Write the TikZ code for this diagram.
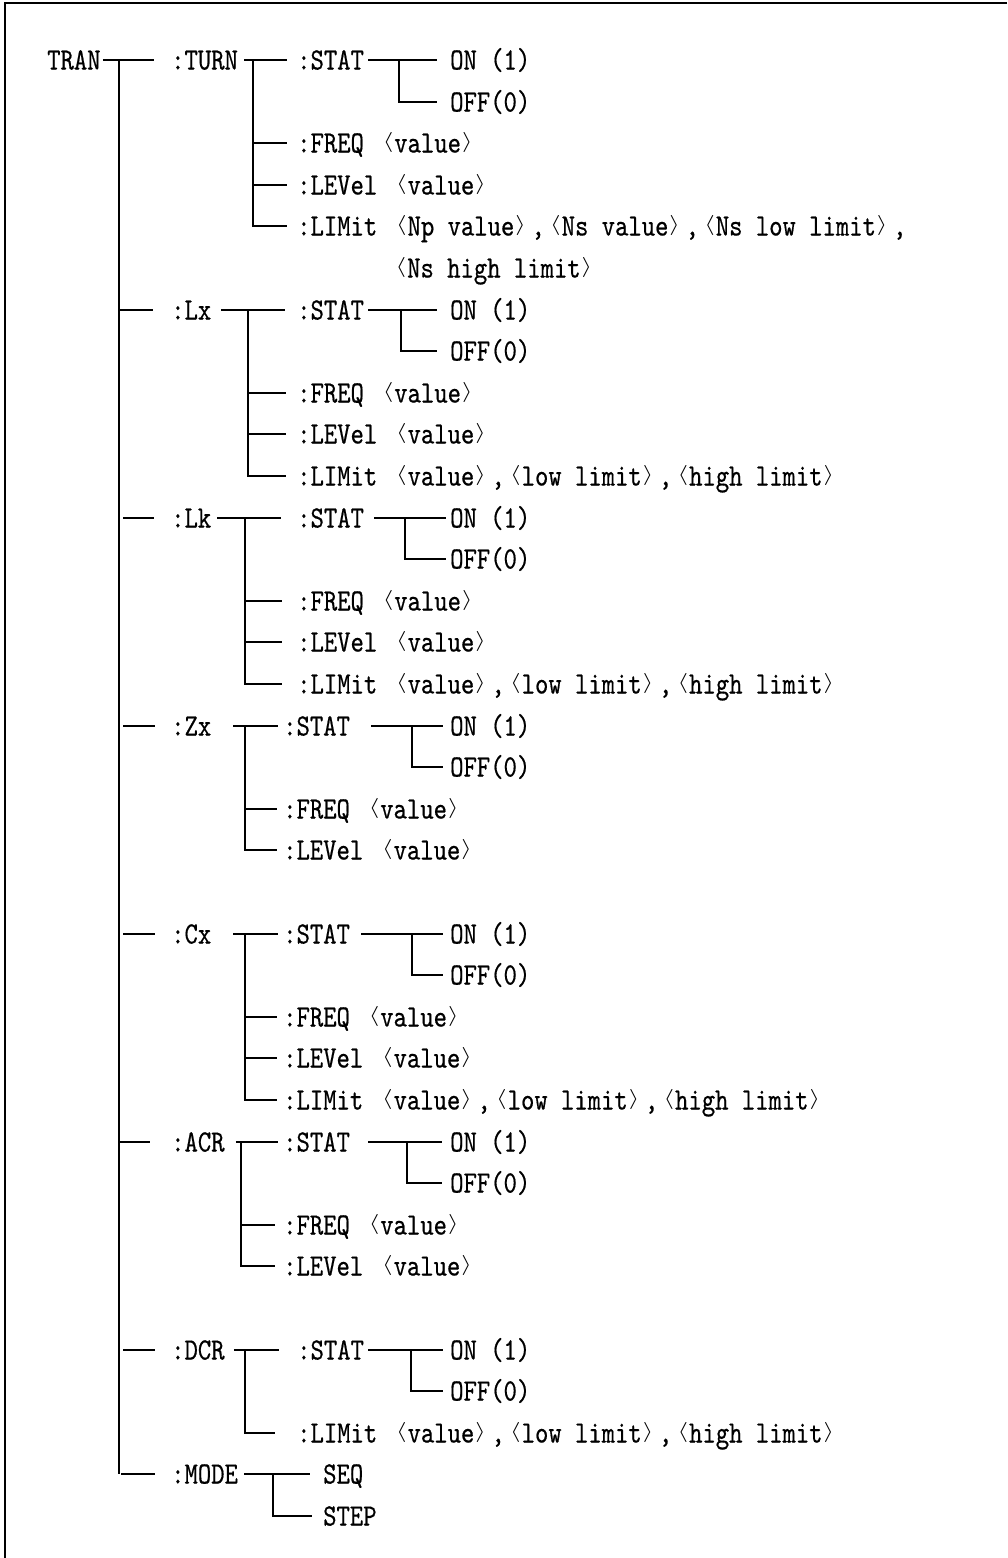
\RequirePackage{fix-cm}
\documentclass[tikz,border=0pt]{standalone}
\usepackage{graphicx}
\usepackage{fontspec}
\usepackage{tikz}
\usetikzlibrary{positioning}
\newfontfamily\cmdfont{lmmono10-regular.otf}[FakeStretch=0.82, FakeBold=0.5]
\newcommand{\angL}{\makebox[17pt][r]{\raisebox{4.8pt}{\resizebox*{10.5pt}{20pt}{$\langle$}}\hspace{1pt}}}
\newcommand{\angR}{\makebox[17pt][l]{\hspace{1pt}\raisebox{4.8pt}{\resizebox*{10.5pt}{20pt}{$\rangle$}}}}

\begin{document}
\begin{tikzpicture}[
  x=1pt, y=-1pt,
  cmd/.style={inner sep=0pt, anchor=west, text height=19pt, text depth=0pt, font=\cmdfont\fontsize{31}{41.6}\selectfont},
  wire/.style={line width=1.8pt},
  frame/.style={line width=2pt}
]
\useasboundingbox (0,0) rectangle (1007,1558);
\draw[frame] (1007,3) -- (4.5,3) -- (4.5,1558);

% root and first level
\node[cmd] (tran) at (47,60) {TRAN};
\node[cmd] (turn) at (171,60) {:TURN};
\node[cmd] (lx) at (171,310) {:Lx};
\node[cmd] (lk) at (171,518) {:Lk};
\node[cmd] (zx) at (171,726) {:Zx};
\node[cmd] (cx) at (171,934) {:Cx};
\node[cmd] (acr) at (171,1142) {:ACR};
\node[cmd] (dcr) at (171,1350) {:DCR};
\node[cmd] (mode) at (171,1474) {:MODE};

\coordinate (trunk) at (119,60);
\draw[wire] ([xshift=2pt]tran.east) -- ([xshift=-17pt]turn.west);
\draw[wire] (trunk) -- (trunk |- mode.west);
\draw[wire] (trunk |- lx.west) -- ([xshift=-18pt]lx.west);
\draw[wire] ([xshift=4pt]trunk |- lk.west) -- ([xshift=-17pt]lk.west);
\draw[wire] ([xshift=4pt]trunk |- zx.west) -- ([xshift=-16pt]zx.west);
\draw[wire] ([xshift=4pt]trunk |- cx.west) -- ([xshift=-16pt]cx.west);
\draw[wire] (trunk |- acr.west) -- ([xshift=-21pt]acr.west);
\draw[wire] ([xshift=4pt]trunk |- dcr.west) -- ([xshift=-16pt]dcr.west);
\draw[wire] ([xshift=2pt]trunk |- mode.west) -- ([xshift=-16pt]mode.west);

% :TURN
\node[cmd] (tstat) at (297,60) {:STAT};
\node[cmd] (ton) at (450,60) {ON (1)};
\node[cmd] (toff) at (450,102) {OFF(0)};
\node[cmd] (tfreq) at (297,143) {:FREQ \angL value\angR};
\node[cmd] (tlevel) at (297,185) {:LEVel \angL value\angR};
\node[cmd] (tlimit) at (297,226) {:LIMit \angL Np value\angR,\angL Ns value\angR,\angL Ns low limit\angR,};
\node[cmd] (tlimitb) at (390,268) {\angL Ns high limit\angR};
\coordinate (tbus) at (253,60);
\coordinate (tsbus) at (399,60);
\draw[wire] ([xshift=6pt]turn.east) -- ([xshift=-10pt]tstat.west);
\draw[wire] (tbus) |- ([xshift=-10pt]tlimit.west);
\draw[wire] (tbus |- tfreq.west) -- ([xshift=-10pt]tfreq.west);
\draw[wire] (tbus |- tlevel.west) -- ([xshift=-10pt]tlevel.west);
\draw[wire] ([xshift=4pt]tstat.east) -- ([xshift=-13pt]ton.west);
\draw[wire] (tsbus) |- ([xshift=-13pt]toff.west);

% :Lx
\node[cmd] (xstat) at (297,310) {:STAT};
\node[cmd] (xon) at (450,310) {ON (1)};
\node[cmd] (xoff) at (450,351) {OFF(0)};
\node[cmd] (xfreq) at (297,393) {:FREQ \angL value\angR};
\node[cmd] (xlevel) at (297,434) {:LEVel \angL value\angR};
\node[cmd] (xlimit) at (297,476) {:LIMit \angL value\angR,\angL low limit\angR,\angL high limit\angR};
\coordinate (xbus) at (248,310);
\coordinate (xsbus) at (401,310);
\draw[wire] ([xshift=10pt]lx.east) -- ([xshift=-12pt]xstat.west);
\draw[wire] (xbus) |- ([xshift=-11pt]xlimit.west);
\draw[wire] (xbus |- xfreq.west) -- ([xshift=-11pt]xfreq.west);
\draw[wire] (xbus |- xlevel.west) -- ([xshift=-11pt]xlevel.west);
\draw[wire] ([xshift=4pt]xstat.east) -- ([xshift=-13pt]xon.west);
\draw[wire] (xsbus) |- ([xshift=-13pt]xoff.west);

% :Lk
\node[cmd] (kstat) at (297,518) {:STAT};
\node[cmd] (kon) at (450,518) {ON (1)};
\node[cmd] (koff) at (450,559) {OFF(0)};
\node[cmd] (kfreq) at (297,601) {:FREQ \angL value\angR};
\node[cmd] (klevel) at (297,642) {:LEVel \angL value\angR};
\node[cmd] (klimit) at (297,684) {:LIMit \angL value\angR,\angL low limit\angR,\angL high limit\angR};
\coordinate (kbus) at (245,518);
\coordinate (ksbus) at (405,518);
\draw[wire] ([xshift=6pt]lk.east) -- ([xshift=-16pt]kstat.west);
\draw[wire] (kbus) |- ([xshift=-15pt]klimit.west);
\draw[wire] (kbus |- kfreq.west) -- ([xshift=-15pt]kfreq.west);
\draw[wire] (kbus |- klevel.west) -- ([xshift=-15pt]klevel.west);
\draw[wire] ([xshift=10pt]kstat.east) -- ([xshift=-4pt]kon.west);
\draw[wire] (ksbus) |- ([xshift=-4pt]koff.west);

% :Zx
\node[cmd] (zstat) at (283,726) {:STAT};
\node[cmd] (zon) at (450,726) {ON (1)};
\node[cmd] (zoff) at (450,767) {OFF(0)};
\node[cmd] (zfreq) at (283,809) {:FREQ \angL value\angR};
\node[cmd] (zlevel) at (283,850) {:LEVel \angL value\angR};
\coordinate (zbus) at (245,726);
\coordinate (zsbus) at (412,726);
\draw[wire] ([xshift=22pt]zx.east) -- ([xshift=-5pt]zstat.west);
\draw[wire] (zbus) |- ([xshift=-6pt]zlevel.west);
\draw[wire] (zbus |- zfreq.west) -- ([xshift=-6pt]zfreq.west);
\draw[wire] ([xshift=21pt]zstat.east) -- ([xshift=-7pt]zon.west);
\draw[wire] (zsbus) |- ([xshift=-7pt]zoff.west);

% :Cx
\node[cmd] (cstat) at (283,934) {:STAT};
\node[cmd] (con) at (450,934) {ON (1)};
\node[cmd] (coff) at (450,975) {OFF(0)};
\node[cmd] (cfreq) at (283,1017) {:FREQ \angL value\angR};
\node[cmd] (clevel) at (283,1058) {:LEVel \angL value\angR};
\node[cmd] (climit) at (283,1100) {:LIMit \angL value\angR,\angL low limit\angR,\angL high limit\angR};
\coordinate (cbus) at (245,934);
\coordinate (csbus) at (412,934);
\draw[wire] ([xshift=22pt]cx.east) -- ([xshift=-5pt]cstat.west);
\draw[wire] (cbus) |- ([xshift=-6pt]climit.west);
\draw[wire] (cbus |- cfreq.west) -- ([xshift=-6pt]cfreq.west);
\draw[wire] (cbus |- clevel.west) -- ([xshift=-6pt]clevel.west);
\draw[wire] ([xshift=11pt]cstat.east) -- ([xshift=-7pt]con.west);
\draw[wire] (csbus) |- ([xshift=-7pt]coff.west);

% :ACR
\node[cmd] (astat) at (283,1142) {:STAT};
\node[cmd] (aon) at (450,1142) {ON (1)};
\node[cmd] (aoff) at (450,1183) {OFF(0)};
\node[cmd] (afreq) at (283,1225) {:FREQ \angL value\angR};
\node[cmd] (alevel) at (283,1266) {:LEVel \angL value\angR};
\coordinate (abus) at (241,1142);
\coordinate (asbus) at (407,1142);
\draw[wire] ([xshift=11pt]acr.east) -- ([xshift=-5pt]astat.west);
\draw[wire] (abus) |- ([xshift=-8pt]alevel.west);
\draw[wire] (abus |- afreq.west) -- ([xshift=-8pt]afreq.west);
\draw[wire] ([xshift=18pt]astat.east) -- ([xshift=-8pt]aon.west);
\draw[wire] (asbus) |- ([xshift=-8pt]aoff.west);

% :DCR
\node[cmd] (dstat) at (297,1350) {:STAT};
\node[cmd] (don) at (450,1350) {ON (1)};
\node[cmd] (doff) at (450,1391) {OFF(0)};
\node[cmd] (dlimit) at (297,1433) {:LIMit \angL value\angR,\angL low limit\angR,\angL high limit\angR};
\coordinate (dbus) at (245,1350);
\coordinate (dsbus) at (411,1350);
\draw[wire] ([xshift=9pt]dcr.east) -- ([xshift=-18pt]dstat.west);
\draw[wire] (dbus) |- ([xshift=-22pt]dlimit.west);
\draw[wire] ([xshift=4pt]dstat.east) -- ([xshift=-7pt]don.west);
\draw[wire] (dsbus) |- ([xshift=-7pt]doff.west);

% :MODE
\node[cmd] (mseq) at (323,1474) {SEQ};
\node[cmd] (mstep) at (323,1516) {STEP};
\coordinate (mbus) at (273,1474);
\draw[wire] ([xshift=6pt]mode.east) -- ([xshift=-13pt]mseq.west);
\draw[wire] (mbus) |- ([xshift=-11pt]mstep.west);
\end{tikzpicture}
\end{document}
